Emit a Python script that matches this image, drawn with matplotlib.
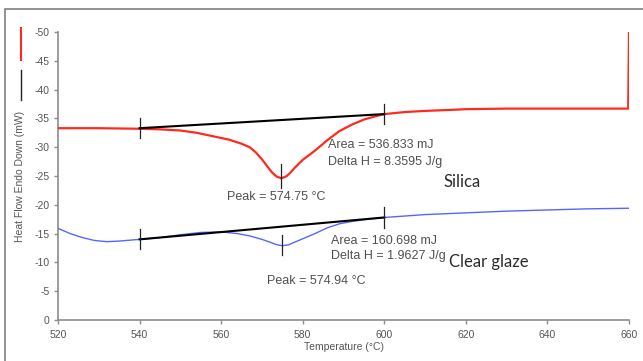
import matplotlib
matplotlib.use("Agg")
import matplotlib.pyplot as plt
from matplotlib.lines import Line2D
from matplotlib.patches import Rectangle

plt.rcParams['font.family'] = ['Liberation Sans', 'DejaVu Sans']
plt.rcParams['axes.unicode_minus'] = False

# ---- data ----
silica_T = [520, 530, 540, 545, 550, 554, 558, 562, 565, 567, 568.5, 570, 571.5, 572.5,
            573.5, 574.75, 576, 577, 578, 580, 583, 586, 589, 592, 595, 598, 600, 605,
            610, 617, 620, 630, 640, 659.8, 660]
silica_H = [-33.3, -33.3, -33.2, -33.1, -32.9, -32.5, -31.9, -31.3, -30.6, -30.0,
            -29.1, -27.9, -26.5, -25.6, -24.95, -24.6, -24.95, -25.6, -26.4, -27.8,
            -29.4, -31.2, -32.8, -33.9, -34.8, -35.4, -35.75, -36.1, -36.3, -36.5,
            -36.6, -36.7, -36.7, -36.7, -50.0]

glaze_T = [520, 523, 526, 529, 532, 535, 540, 545, 550, 555, 560, 564, 567, 570,
           572, 573.5, 575, 576.5, 578, 580, 583, 586, 589, 592, 596, 600, 610, 620,
           630, 640, 650, 660]
glaze_H = [-15.9, -15.0, -14.3, -13.8, -13.6, -13.7, -14.0, -14.3, -14.8, -15.2,
           -15.3, -15.0, -14.6, -14.0, -13.5, -13.1, -12.9, -13.05, -13.5, -14.1,
           -15.0, -16.0, -16.7, -17.1, -17.5, -17.8, -18.3, -18.6, -18.9, -19.1,
           -19.3, -19.4]

silica_base_T = [540, 600]
silica_base_H = [-33.3, -35.75]
glaze_base_T = [540, 600]
glaze_base_H = [-14.0, -17.8]

silica_peak_T = 574.75
silica_peak_span = [-27.0, -23.0]
glaze_peak_T = 574.94
glaze_peak_span = [-14.8, -11.3]
end_tick_half = 1.75

silica_area = "Area = 536.833 mJ"
silica_dh = "Delta H = 8.3595 J/g"
silica_peak = "Peak = 574.75 \u00b0C"
glaze_area = "Area = 160.698 mJ"
glaze_dh = "Delta H = 1.9627 J/g"
glaze_peak = "Peak = 574.94 \u00b0C"

x_ticks = [520, 540, 560, 580, 600, 620, 640, 660]
y_ticks = [0, -5, -10, -15, -20, -25, -30, -35, -40, -45, -50]

# ---- figure ----
W, H = 643, 361
fig = plt.figure(figsize=(W / 100, H / 100), dpi=100)
ax = fig.add_axes([58 / W, 1 - 320 / H, (629 - 58) / W, (320 - 32) / H])

red = '#ff2a1f'
blue = '#5566ff'
grey = '#8c8c8c'
txt = '#505050'

ax.plot(silica_T, silica_H, color=red, lw=1.6, solid_joinstyle='round', zorder=3)
ax.plot(glaze_T, glaze_H, color=blue, lw=1.0, zorder=3)
ax.plot(silica_base_T, silica_base_H, color='black', lw=1.5, zorder=4)
ax.plot(glaze_base_T, glaze_base_H, color='black', lw=1.5, zorder=4)

for T, Hv in zip(silica_base_T + glaze_base_T, silica_base_H + glaze_base_H):
    ax.plot([T, T], [Hv - end_tick_half, Hv + end_tick_half], color='#222222', lw=0.9, zorder=5)
ax.plot([silica_peak_T] * 2, silica_peak_span, color='#222222', lw=0.9, zorder=5)
ax.plot([glaze_peak_T] * 2, glaze_peak_span, color='#222222', lw=0.9, zorder=5)

ax.set_xlim(520, 660)
ax.set_ylim(0, -50)
ax.set_xticks(x_ticks)
ax.set_yticks(y_ticks)
ax.set_xticklabels([str(t) for t in x_ticks])
ax.set_yticklabels([str(t) for t in y_ticks])
for s in ['top', 'right']:
    ax.spines[s].set_visible(False)
for s in ['left', 'bottom']:
    ax.spines[s].set_color(grey)
    ax.spines[s].set_linewidth(1.2)
ax.tick_params(axis='both', colors=grey, labelcolor='#555555', labelsize=7.5,
               length=3, width=1)
ax.tick_params(axis='x', pad=4)
ax.tick_params(axis='y', pad=3)
ax.set_xlabel("Temperature (\u00b0C)", fontsize=7.5, color='#555555', labelpad=2)

# y label placed in figure coords
fig.text(20 / W, 1 - 176 / H, "Heat Flow Endo Down (mW)", rotation=90,
         ha='center', va='center', fontsize=7.5, color='#555555')

# small legend marks at the far left
fig.add_artist(Line2D([20.5 / W, 20.5 / W], [1 - 28 / H, 1 - 60 / H], color=red, lw=1.5))
fig.add_artist(Line2D([20.5 / W, 20.5 / W], [1 - 70 / H, 1 - 100 / H], color='#222222', lw=1.0))

# outer border
fig.add_artist(Rectangle((4.5 / W, -0.2), 1.5, 1.2 - 8.5 / H, transform=fig.transFigure,
                         fill=False, edgecolor='#808080', lw=1.2))

def ftext(x, y, s, **kw):
    fig.text(x / W, 1 - y / H, s, ha='left', va='center', **kw)

ftext(328, 145, silica_area, fontsize=9, color=txt)
ftext(328, 161.5, silica_dh, fontsize=9, color=txt)
ftext(227, 196.5, silica_peak, fontsize=9, color=txt)
ftext(331, 241.5, glaze_area, fontsize=9, color=txt)
ftext(331, 256.5, glaze_dh, fontsize=9, color=txt)
ftext(267, 281.5, glaze_peak, fontsize=9, color=txt)
ftext(443, 182, "Silica", fontsize=12, color='#2b2b2b', family=['Lato', 'DejaVu Sans'])
ftext(449, 262, "Clear glaze", fontsize=12, color='#2b2b2b', family=['Lato', 'DejaVu Sans'])

fig.savefig("out.png", dpi=100)
